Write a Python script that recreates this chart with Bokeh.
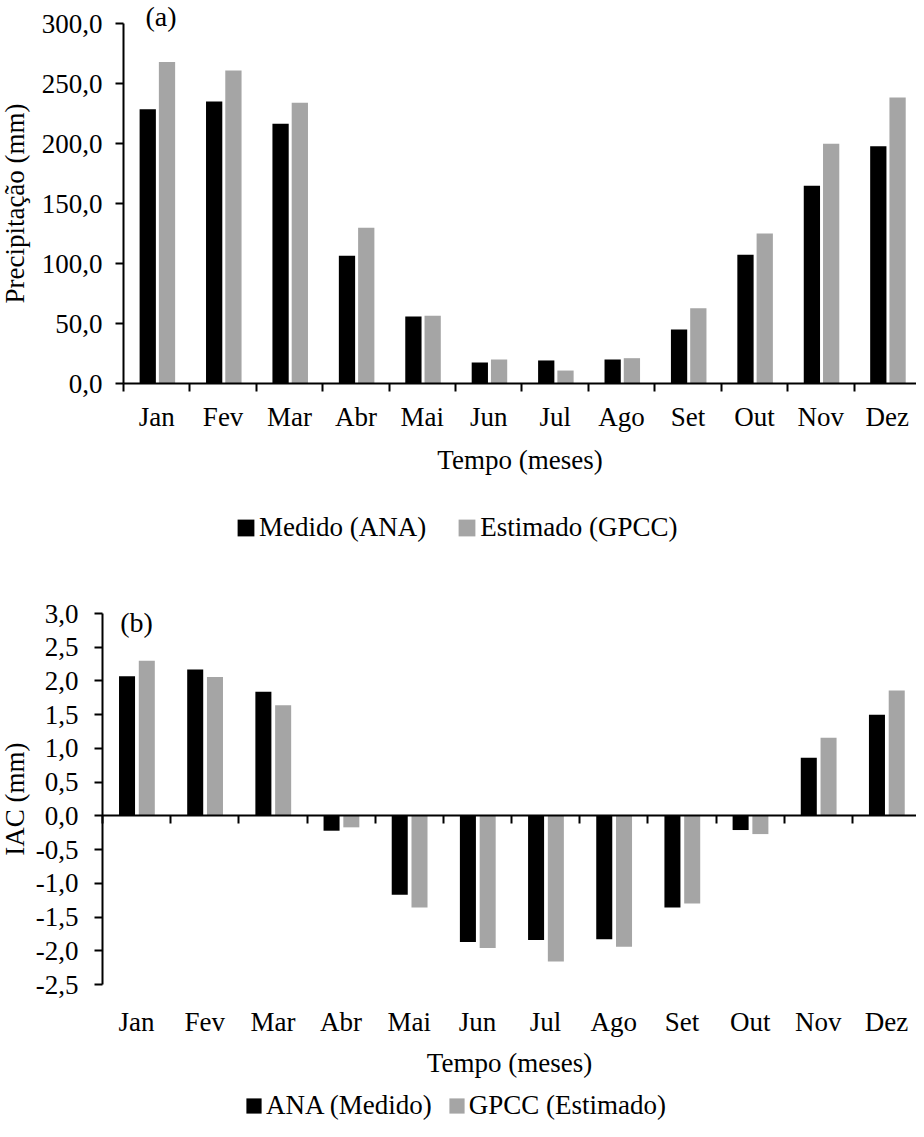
import math
from bokeh.plotting import figure
from bokeh.models import (FixedTicker, CustomJSTickFormatter, CustomLabelingPolicy, LinearAxis,
                          Legend, LegendItem, Label, Range1d, ColumnDataSource)
from bokeh.layouts import column
from bokeh.transform import dodge
from bokeh.embed import file_html
from bokeh.resources import INLINE

# ---------------- data ----------------
meses = ["Jan", "Fev", "Mar", "Abr", "Mai", "Jun", "Jul", "Ago", "Set", "Out", "Nov", "Dez"]
prec_ana = [228.6, 235.0, 216.4, 106.4, 55.8, 17.5, 19.2, 20.0, 45.0, 107.2, 164.7, 197.8]
prec_gpcc = [268.0, 260.8, 233.9, 129.7, 56.4, 20.0, 10.8, 21.1, 62.8, 125.0, 199.7, 238.3]
iac_ana = [2.07, 2.17, 1.84, -0.22, -1.17, -1.87, -1.84, -1.83, -1.36, -0.21, 0.86, 1.50]
iac_gpcc = [2.30, 2.06, 1.64, -0.17, -1.36, -1.96, -2.16, -1.94, -1.30, -0.27, 1.16, 1.86]
prec_ticks = [0, 50, 100, 150, 200, 250, 300]
iac_ticks = [-2.5, -2.0, -1.5, -1.0, -0.5, 0.0, 0.5, 1.0, 1.5, 2.0, 2.5, 3.0]
leg_a = ["Medido (ANA)", "Estimado (GPCC)"]
leg_b = ["ANA (Medido)", "GPCC (Estimado)"]

FONT = "Liberation Serif"
FS = "27px"
BLACK = "#000000"
GRAY = "#a5a5a5"

n = len(meses)
centers = [i + 0.5 for i in range(n)]
bounds = list(range(n + 1))

src = ColumnDataSource(dict(x=centers, pa=prec_ana, pg=prec_gpcc, ia=iac_ana, ig=iac_gpcc))

month_fmt = CustomJSTickFormatter(args=dict(m=meses), code="return m[Math.floor(tick)];")
comma_fmt = CustomJSTickFormatter(code="return tick.toFixed(1).replace('.', ',');")
no_labels = CustomLabelingPolicy(code="for (const i of indices) { indices.unset(i) }; return indices;")


def make_fig(height, xr, yr):
    # the frame fills the whole figure; axes sit at fixed data locations inside it
    p = figure(width=916, height=height, x_range=Range1d(*xr), y_range=Range1d(*yr),
               output_backend="svg", toolbar_location=None, min_border=0)
    p.xgrid.visible = False
    p.ygrid.visible = False
    p.outline_line_color = None
    p.background_fill_color = "white"
    p.border_fill_color = "white"
    return p


def style_yaxis(ax, ticks, standoff_lbl):
    ax.fixed_location = 0
    ax.bounds = (ticks[0], ticks[-1])
    ax.ticker = FixedTicker(ticks=ticks, minor_ticks=[])
    ax.formatter = comma_fmt
    ax.major_label_text_font = FONT
    ax.major_label_text_font_size = FS
    ax.major_label_text_color = BLACK
    ax.major_label_standoff = standoff_lbl
    ax.axis_line_color = BLACK
    ax.axis_line_width = 2
    ax.major_tick_line_color = BLACK
    ax.major_tick_line_width = 2
    ax.major_tick_out = 8
    ax.major_tick_in = 0
    ax.minor_tick_line_color = None


def style_month_axis(ax, loc, lbl_standoff, title_standoff):
    ax.fixed_location = loc
    ax.bounds = (0, n)
    ax.ticker = FixedTicker(ticks=centers, minor_ticks=bounds)
    ax.formatter = month_fmt
    ax.major_label_text_font = FONT
    ax.major_label_text_font_size = FS
    ax.major_label_text_color = BLACK
    ax.major_label_standoff = lbl_standoff
    ax.major_tick_line_color = None
    ax.axis_label = "Tempo (meses)"
    ax.axis_label_text_font = FONT
    ax.axis_label_text_font_size = FS
    ax.axis_label_text_font_style = "normal"
    ax.axis_label_text_color = BLACK
    ax.axis_label_standoff = title_standoff


def ylabel(p, text, x, y):
    p.add_layout(Label(x=x, y=y, text=text, angle=math.pi / 2, text_font=FONT,
                       text_font_size=FS, text_color=BLACK,
                       text_align="center", text_baseline="middle"))


def make_legend(items, x, y, gw, spacing):
    return Legend(items=items, location=(x, y), orientation="horizontal",
                  glyph_width=gw, glyph_height=gw, label_standoff=3, spacing=spacing,
                  padding=0, margin=0, border_line_color=None, background_fill_alpha=0,
                  label_text_font=FONT, label_text_font_size=FS, label_text_color=BLACK,
                  label_height=gw)


# ---------------- (a) precipitation ----------------
p1 = make_fig(560, (-1.852, 11.94), (-147.5, 319.17))
r1 = p1.vbar(x=dodge("x", -0.135, range=p1.x_range), top="pa", width=0.245, source=src,
             fill_color=BLACK, line_color=None)
r2 = p1.vbar(x=dodge("x", 0.155, range=p1.x_range), top="pg", width=0.245, source=src,
             fill_color=GRAY, line_color=None)
style_yaxis(p1.yaxis[0], prec_ticks, 13)
xa = p1.xaxis[0]
style_month_axis(xa, 0, 10, 10)
xa.axis_line_color = BLACK
xa.axis_line_width = 2
xa.minor_tick_line_color = BLACK
xa.minor_tick_line_width = 2
xa.minor_tick_out = 8
xa.minor_tick_in = 0

ylabel(p1, "Precipitação (mm)", -1.627, 150)
p1.add_layout(Label(x=0.33, y=305.8, text="(a)", text_font=FONT, text_font_size="28px",
                    text_color=BLACK, text_baseline="middle"))
p1.add_layout(make_legend([LegendItem(label=leg_a[0], renderers=[r1]),
                           LegendItem(label=leg_a[1], renderers=[r2])],
                          235, 17, 21, 30))

# ---------------- (b) IAC ----------------
p2 = make_fig(561, (-1.496, 11.94), (-4.531, 3.786))
r3 = p2.vbar(x=dodge("x", -0.14, range=p2.x_range), top="ia", width=0.235, source=src,
             fill_color=BLACK, line_color=None)
r4 = p2.vbar(x=dodge("x", 0.15, range=p2.x_range), top="ig", width=0.235, source=src,
             fill_color=GRAY, line_color=None)
style_yaxis(p2.yaxis[0], iac_ticks, 16)
xb = p2.xaxis[0]
style_month_axis(xb, iac_ticks[0], 16, 8)
xb.axis_line_color = None
xb.minor_tick_line_color = None

zero_axis = LinearAxis(fixed_location=0, bounds=(0, n),
                       ticker=FixedTicker(ticks=bounds, minor_ticks=[]),
                       major_label_policy=no_labels, major_label_text_font_size="1px",
                       axis_line_color=BLACK, axis_line_width=2,
                       major_tick_line_color=BLACK, major_tick_line_width=2,
                       major_tick_out=8, major_tick_in=0, minor_tick_line_color=None)
p2.add_layout(zero_axis, "below")

ylabel(p2, "IAC (mm)", -1.276, 0.25)
p2.add_layout(Label(x=0.26, y=2.87, text="(b)", text_font=FONT, text_font_size="28px",
                    text_color=BLACK, text_baseline="middle"))
p2.add_layout(make_legend([LegendItem(label=leg_b[0], renderers=[r3]),
                           LegendItem(label=leg_b[1], renderers=[r4])],
                          244, 0, 19, 15))

layout = column(p1, p2)
open("out.html", "w").write(file_html(layout, INLINE))
